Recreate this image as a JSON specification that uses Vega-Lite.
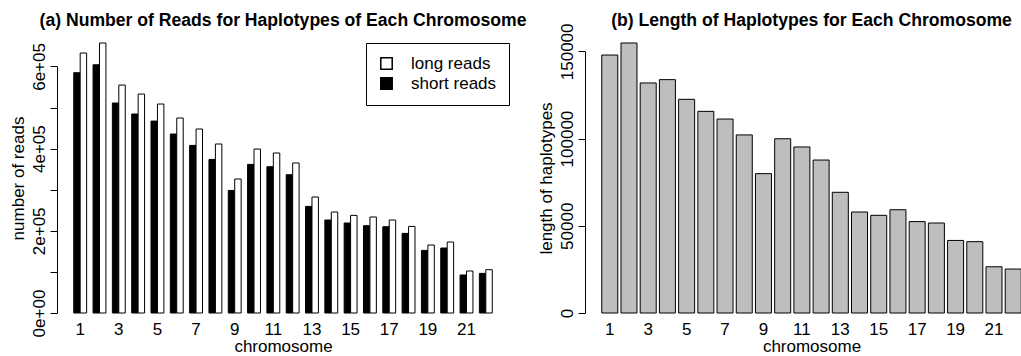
{
  "$schema": "https://vega.github.io/schema/vega-lite/v6.json",
  "padding": {"left": 9, "top": 11, "right": 0, "bottom": 0},
  "background": "white",
  "bounds": "flush",
  "spacing": 76,
  "resolve": {"scale": {"color": "independent"}, "legend": {"color": "independent"}},
  "config": {
    "font": "Liberation Sans",
    "view": {"stroke": null},
    "axis": {
      "grid": false,
      "labelFont": "Liberation Sans",
      "labelFontSize": 17,
      "labelColor": "black",
      "titleFont": "Liberation Sans",
      "titleFontSize": 17,
      "titleFontWeight": "normal",
      "titleColor": "black",
      "tickColor": "black",
      "domainColor": "black"
    },
    "axisX": {
      "domain": false,
      "ticks": false,
      "tickSize": 0,
      "labelAngle": 0,
      "labelPadding": 8,
      "titlePadding": 1
    },
    "axisY": {
      "labelAngle": 270,
      "labelAlign": "center",
      "labelBaseline": "alphabetic",
      "labelPadding": 6,
      "tickSize": 7,
      "labelFlush": false,
      "labelOverlap": false,
      "titlePadding": 2.3
    },
    "title": {"font": "Liberation Sans", "fontSize": 17.6, "fontWeight": "bold", "color": "black"}
  },
  "datasets": {
    "reads": [
      {"chromosome": "1", "type": "short reads", "reads": 584700},
      {"chromosome": "1", "type": "long reads", "reads": 632600},
      {"chromosome": "2", "type": "short reads", "reads": 604000},
      {"chromosome": "2", "type": "long reads", "reads": 657000},
      {"chromosome": "3", "type": "short reads", "reads": 511000},
      {"chromosome": "3", "type": "long reads", "reads": 554700},
      {"chromosome": "4", "type": "short reads", "reads": 484200},
      {"chromosome": "4", "type": "long reads", "reads": 532800},
      {"chromosome": "5", "type": "short reads", "reads": 467000},
      {"chromosome": "5", "type": "long reads", "reads": 508500},
      {"chromosome": "6", "type": "short reads", "reads": 435500},
      {"chromosome": "6", "type": "long reads", "reads": 474500},
      {"chromosome": "7", "type": "short reads", "reads": 407800},
      {"chromosome": "7", "type": "long reads", "reads": 447700},
      {"chromosome": "8", "type": "short reads", "reads": 373700},
      {"chromosome": "8", "type": "long reads", "reads": 411200},
      {"chromosome": "9", "type": "short reads", "reads": 298300},
      {"chromosome": "9", "type": "long reads", "reads": 326000},
      {"chromosome": "10", "type": "short reads", "reads": 361600},
      {"chromosome": "10", "type": "long reads", "reads": 399000},
      {"chromosome": "11", "type": "short reads", "reads": 356000},
      {"chromosome": "11", "type": "long reads", "reads": 389300},
      {"chromosome": "12", "type": "short reads", "reads": 336500},
      {"chromosome": "12", "type": "long reads", "reads": 365000},
      {"chromosome": "13", "type": "short reads", "reads": 259400},
      {"chromosome": "13", "type": "long reads", "reads": 282200},
      {"chromosome": "14", "type": "short reads", "reads": 226300},
      {"chromosome": "14", "type": "long reads", "reads": 245700},
      {"chromosome": "15", "type": "short reads", "reads": 219000},
      {"chromosome": "15", "type": "long reads", "reads": 237500},
      {"chromosome": "16", "type": "short reads", "reads": 212400},
      {"chromosome": "16", "type": "long reads", "reads": 233600},
      {"chromosome": "17", "type": "short reads", "reads": 210000},
      {"chromosome": "17", "type": "long reads", "reads": 226300},
      {"chromosome": "18", "type": "short reads", "reads": 193700},
      {"chromosome": "18", "type": "long reads", "reads": 210700},
      {"chromosome": "19", "type": "short reads", "reads": 152300},
      {"chromosome": "19", "type": "long reads", "reads": 165400},
      {"chromosome": "20", "type": "short reads", "reads": 158100},
      {"chromosome": "20", "type": "long reads", "reads": 172700},
      {"chromosome": "21", "type": "short reads", "reads": 92500},
      {"chromosome": "21", "type": "long reads", "reads": 102200},
      {"chromosome": "22", "type": "short reads", "reads": 96400},
      {"chromosome": "22", "type": "long reads", "reads": 105400}
    ],
    "lengths": [
      {"chromosome": "1", "length": 147900},
      {"chromosome": "2", "length": 154800},
      {"chromosome": "3", "length": 131900},
      {"chromosome": "4", "length": 133800},
      {"chromosome": "5", "length": 122500},
      {"chromosome": "6", "length": 115600},
      {"chromosome": "7", "length": 111200},
      {"chromosome": "8", "length": 102100},
      {"chromosome": "9", "length": 79900},
      {"chromosome": "10", "length": 99900},
      {"chromosome": "11", "length": 95200},
      {"chromosome": "12", "length": 87700},
      {"chromosome": "13", "length": 69200},
      {"chromosome": "14", "length": 57900},
      {"chromosome": "15", "length": 56000},
      {"chromosome": "16", "length": 59200},
      {"chromosome": "17", "length": 52400},
      {"chromosome": "18", "length": 51600},
      {"chromosome": "19", "length": 41600},
      {"chromosome": "20", "length": 40900},
      {"chromosome": "21", "length": 26500},
      {"chromosome": "22", "length": 25200}
    ]
  },
  "hconcat": [
    {
      "width": 452,
      "height": 270,
      "title": {"text": "(a) Number of Reads for Haplotypes of Each Chromosome", "frame": "group", "anchor": "middle", "baseline": "alphabetic", "offset": -1},
      "data": {"name": "reads"},
      "mark": {"type": "bar", "stroke": "black"},
      "encoding": {
        "x": {
          "field": "chromosome", "type": "nominal", "sort": null,
          "scale": {"paddingInner": 0.33333, "paddingOuter": 0.86667},
          "axis": {"title": "chromosome", "values": ["1", "3", "5", "7", "9", "11", "13", "15", "17", "19", "21"]}
        },
        "xOffset": {
          "field": "type", "type": "nominal",
          "sort": "descending",
          "scale": {"paddingInner": 0, "paddingOuter": 0}
        },
        "y": {
          "field": "reads", "type": "quantitative", "stack": null,
          "scale": {"domain": [0, 657000], "nice": false, "zero": false},
          "axis": {
            "title": "number of reads",
            "values": [0, 100000, 200000, 300000, 400000, 500000, 600000],
            "labelExpr": "datum.value % 200000 == 0 ? (datum.value == 0 ? '0e+00' : replace(format(datum.value, '.0e'), 'e+5', 'e+05')) : ''",
            "domainDash": [246.6, 400]
          }
        },
        "color": {
          "field": "type", "type": "nominal",
          "scale": {"domain": ["long reads", "short reads"], "range": ["white", "black"]},
          "legend": {
            "title": null,
            "orient": "top-right",
            "offset": 0,
            "padding": 12,
            "strokeColor": "black",
            "fillColor": "white",
            "labelFont": "Liberation Sans",
            "labelFontSize": 17,
            "labelColor": "black",
            "labelOffset": 16,
            "rowPadding": 1,
            "symbolType": "square",
            "symbolSize": 130,
            "symbolStrokeColor": "black"
          }
        }
      }
    },
    {
      "width": 453,
      "height": 270,
      "title": {"text": "(b) Length of Haplotypes for Each Chromosome", "frame": "group", "anchor": "middle", "baseline": "alphabetic", "offset": -21},
      "data": {"name": "lengths"},
      "mark": {"type": "bar", "fill": "#BEBEBE", "stroke": "black"},
      "encoding": {
        "x": {
          "field": "chromosome", "type": "nominal", "sort": null,
          "scale": {"paddingInner": 0.16667, "paddingOuter": 0.87333},
          "axis": {"title": "chromosome", "values": ["1", "3", "5", "7", "9", "11", "13", "15", "17", "19", "21"]}
        },
        "y": {
          "field": "length", "type": "quantitative",
          "scale": {"domain": [0, 154800], "nice": false, "zero": false},
          "axis": {
            "title": "length of haplotypes",
            "values": [0, 50000, 100000, 150000],
            "format": "d",
            "domainDash": [261.6, 400]
          }
        }
      }
    }
  ]
}
